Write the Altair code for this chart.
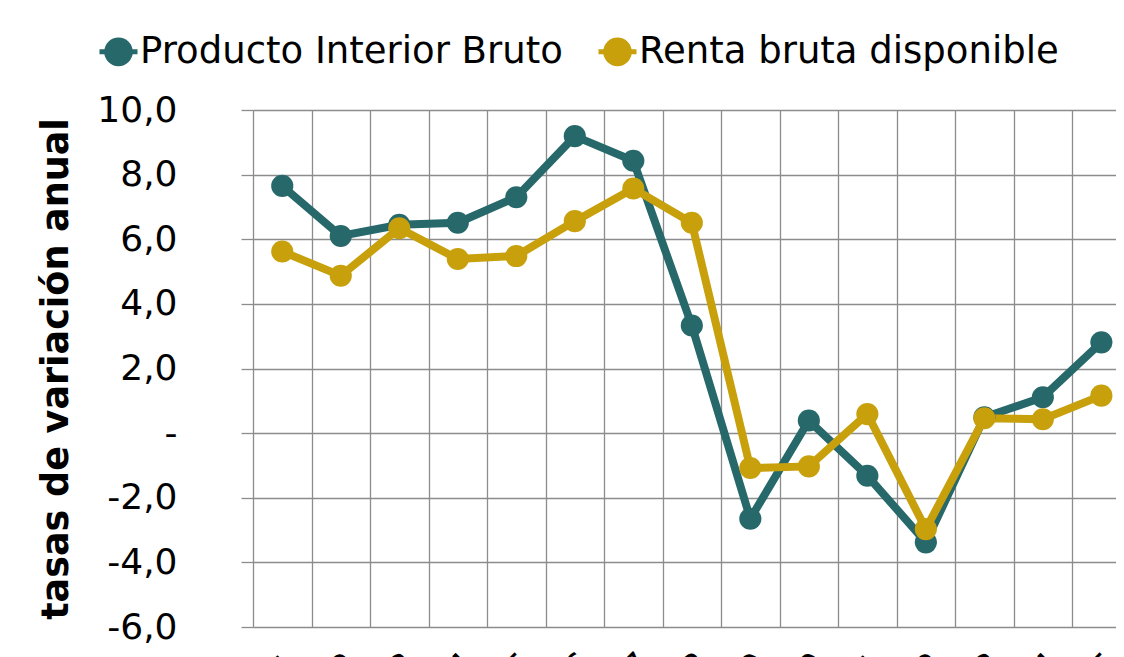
import altair as alt
import pandas as pd

years = ["2001", "2002", "2003", "2004", "2005", "2006", "2007", "2008",
         "2009", "2010", "2011", "2012", "2013", "2014", "2015"]
pib = [7.65, 6.10, 6.45, 6.51, 7.30, 9.19, 8.43, 3.33, -2.65, 0.39, -1.32, -3.38, 0.49, 1.11, 2.81]
renta = [5.62, 4.87, 6.34, 5.39, 5.48, 6.56, 7.57, 6.51, -1.08, -1.03, 0.59, -2.97, 0.46, 0.43, 1.16]
series = ["Producto Interior Bruto", "Renta bruta disponible"]
colors = ["#27686b", "#c8a00c"]

rows = []
for i, y in enumerate(years):
    rows.append({"idx": i + 1, "year": y, "serie": series[0], "valor": pib[i]})
    rows.append({"idx": i + 1, "year": y, "serie": series[1], "valor": renta[i]})
df = pd.DataFrame(rows)

n = len(years)
grid_vals = [i + 0.5 for i in range(n)]
label_vals = [i + 1 for i in range(n)]
label_expr = "[" + ",".join("'" + y + "'" for y in years) + "][datum.value - 1]"

xscale = alt.Scale(domain=[0.5, n + 0.25], nice=False, zero=False)
yscale = alt.Scale(domain=[-6, 10], nice=False)
sc = alt.Scale(domain=series, range=colors)

FONT = "DejaVu Sans"
GRID = "#8c8c8c"
YTITLE = "tasas de variación anual"

y_axis = alt.Axis(values=list(range(-6, 11, 2)), grid=True, gridColor=GRID,
                  gridWidth=1.3, gridOpacity=1, domain=False, tickSize=12,
                  tickColor=GRID, tickWidth=1.3,
                  labelExpr="datum.value == 0 ? '-\u00a0\u00a0\u00a0' : replace(replace(format(datum.value, '.1f'), '.', ','), '\u2212', '-')",
                  labelFontSize=36, labelColor="#000000", labelFont=FONT,
                  labelPadding=64, titleFont=FONT, titleFontSize=36.5,
                  titleFontWeight="bold", titleColor="#000000", titlePadding=21)

legend = alt.Legend(orient="none", legendX=-156, legendY=-80, direction="horizontal",
                    title=None)

base = alt.Chart(df)

lines = base.mark_line(strokeWidth=8).encode(
    x=alt.X("idx:Q", scale=xscale, title=None,
            axis=alt.Axis(values=grid_vals, grid=True, labels=False, ticks=False,
                          domain=False, orient="bottom", gridColor=GRID, gridWidth=1.3,
                          gridOpacity=1)),
    y=alt.Y("valor:Q", scale=yscale, title=YTITLE, axis=y_axis),
    stroke=alt.Stroke("serie:N", scale=sc, title=None, legend=legend),
    detail="serie:N",
)

points = base.mark_circle(size=490, opacity=1, strokeWidth=0).encode(
    x=alt.X("idx:Q", scale=xscale, title=None,
            axis=alt.Axis(values=label_vals, grid=False, ticks=False, domain=False,
                          orient="bottom", labelExpr=label_expr, labelAngle=-45,
                          labelFontSize=36, labelFont=FONT, labelColor="#000000",
                          labelPadding=20, labelOverlap=False)),
    y=alt.Y("valor:Q", scale=yscale, title=YTITLE, axis=y_axis),
    fill=alt.Fill("serie:N", scale=sc, title=None, legend=legend),
    stroke=alt.Stroke("serie:N", scale=sc, title=None, legend=legend),
)

chart = alt.layer(lines, points).resolve_axis(x="independent").properties(
    width=863, height=517,
    autosize=alt.AutoSizeParams(type="none"),
    padding={"left": 245, "top": 102, "right": 0, "bottom": 30},
).configure_view(stroke=None).configure_legend(
    labelFont=FONT, labelFontSize=37, labelColor="#000000",
    symbolType="M-1,0L1,0M0.62,0A0.62,0.62,0,1,1,-0.62,0A0.62,0.62,0,1,1,0.62,0Z",
    symbolSize=1444, symbolStrokeWidth=5, labelOffset=0, columnPadding=25,
    labelLimit=700,
)

chart.save("out.html", embed_options={"renderer": "svg", "actions": False})
